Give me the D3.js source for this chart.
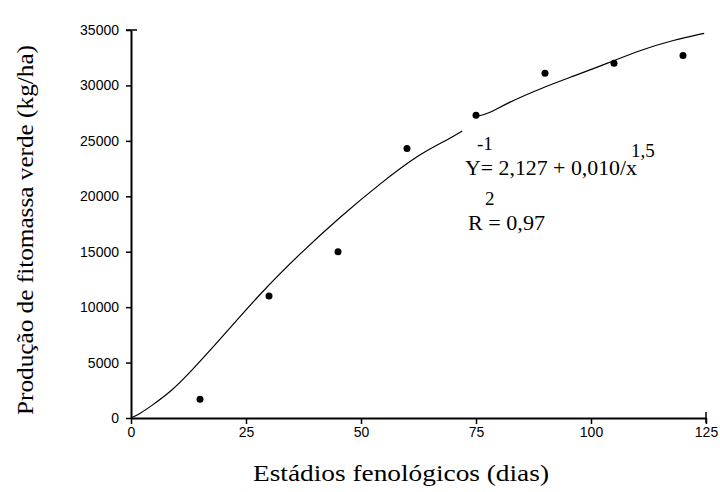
<!DOCTYPE html>
<html>
<head>
<meta charset="utf-8">
<script src="https://cdn.jsdelivr.net/npm/d3@7"></script>
<style>
  html, body { margin: 0; padding: 0; background: #fff; }
  svg { display: block; }
</style>
</head>
<body>
<div id="chart"></div>
<script>
// Observed data
const days = [15, 30, 45, 60, 75, 90, 105, 120];
const biomass = [1700, 11000, 15000, 24300, 27300, 31100, 32000, 32700];

// Fitted curve (two pieces, broken near the equation label)
const curve1X = [0, 2, 4.1, 8.5, 12.8, 19.4, 28.1, 36.8, 45.5, 54.2, 62.9, 68.8, 72.0];
const curve1Y = [0, 400, 1000, 2300, 4100, 7100, 11250, 14860, 18160, 21170, 23880, 25080, 25890];
const curve2X = [74.9, 77.5, 81.8, 89.1, 96.3, 103.6, 110.8, 118.0, 124.6];
const curve2Y = [27180, 27400, 28420, 29740, 30850, 32000, 33200, 34100, 34700];

const xTicks = [0, 25, 50, 75, 100, 125];
const yTicks = [0, 5000, 10000, 15000, 20000, 25000, 30000, 35000];

const xTitle = "Estádios fenológicos (dias)";
const yTitle = "Produção de fitomassa verde (kg/ha)";

const W = 720, H = 492;
const margin = {left: 131, right: 14, top: 30, bottom: 74};

const svg = d3.select("#chart").append("svg")
  .attr("width", W).attr("height", H);

const x = d3.scaleLinear().domain([0, 125]).range([margin.left, W - margin.right]);
const y = d3.scaleLinear().domain([0, 35000]).range([H - margin.bottom, margin.top]);

// Axes
const xAxis = d3.axisBottom(x).tickValues(xTicks).tickSize(6).tickSizeOuter(0).tickPadding(3)
  .tickFormat(d3.format("d"));
const yAxis = d3.axisLeft(y).tickValues(yTicks).tickSize(5).tickSizeOuter(0).tickPadding(7)
  .tickFormat(d3.format("d"));

const gx = svg.append("g").attr("transform", `translate(0,${y(0)})`).call(xAxis);
const gy = svg.append("g").attr("transform", `translate(${x(0)},0)`).call(yAxis);

[gx, gy].forEach(g => {
  g.select(".domain").attr("stroke", "#000").attr("stroke-width", 2);
  g.selectAll(".tick line").attr("stroke", "#000").attr("stroke-width", 1.5);
  g.selectAll(".tick text")
    .attr("fill", "#000")
    .style("font-family", "'Liberation Sans', Arial, sans-serif")
    .style("font-size", "14px");
});

// end caps crossing the axis at the extremes
svg.append("line").attr("x1", x(125)).attr("x2", x(125))
  .attr("y1", y(0) - 6).attr("y2", y(0) + 5).attr("stroke", "#000").attr("stroke-width", 1.5);
svg.append("line").attr("x1", x(0) - 5).attr("x2", x(0) + 6)
  .attr("y1", y(35000)).attr("y2", y(35000)).attr("stroke", "#000").attr("stroke-width", 1.5);

// Fitted curve
const line = d3.line().x(d => x(d[0])).y(d => y(d[1])).curve(d3.curveBasis);
svg.append("path").datum(d3.zip(curve1X, curve1Y))
  .attr("d", line).attr("fill", "none").attr("stroke", "#000").attr("stroke-width", 1.2);
svg.append("path").datum(d3.zip(curve2X, curve2Y))
  .attr("d", line).attr("fill", "none").attr("stroke", "#000").attr("stroke-width", 1.2);

// Points
svg.append("g").selectAll("circle").data(d3.zip(days, biomass)).join("circle")
  .attr("cx", d => x(d[0])).attr("cy", d => y(d[1])).attr("r", 3.5).attr("fill", "#000");

// Titles
const serif = "'Liberation Serif', 'Times New Roman', serif";
svg.append("text").attr("x", 253).attr("y", 481)
  .attr("textLength", 296).attr("lengthAdjust", "spacingAndGlyphs")
  .style("font-family", serif).style("font-size", "23px").text(xTitle);

svg.append("text")
  .attr("transform", `translate(33,415) rotate(-90)`)
  .attr("textLength", 370).attr("lengthAdjust", "spacingAndGlyphs")
  .style("font-family", serif).style("font-size", "23px").text(yTitle);

// Equation annotation
const eq = svg.append("g").style("font-family", serif).attr("fill", "#000");
eq.append("text").attr("x", 477).attr("y", 150).style("font-size", "19px").text("-1");
eq.append("text").attr("x", 465).attr("y", 175)
  .attr("textLength", 172).attr("lengthAdjust", "spacingAndGlyphs")
  .style("font-size", "20px").text("Y= 2,127 + 0,010/x");
eq.append("text").attr("x", 631).attr("y", 157).style("font-size", "19px").text("1,5");
eq.append("text").attr("x", 485).attr("y", 205).style("font-size", "19px").text("2");
eq.append("text").attr("x", 468).attr("y", 230)
  .attr("textLength", 77).attr("lengthAdjust", "spacingAndGlyphs")
  .style("font-size", "20px").text("R = 0,97");
</script>
</body>
</html>
